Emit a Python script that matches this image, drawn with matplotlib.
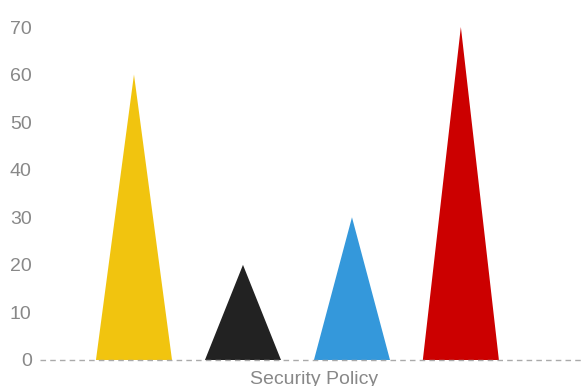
import matplotlib
matplotlib.use("Agg")
import matplotlib.pyplot as plt

category = "Security Policy"
values = [60, 20, 30, 70]
colors = ["#F1C40F", "#222222", "#3498DB", "#CC0000"]
offsets = [-0.3285, -0.1296, 0.0693, 0.268]
half_width = 0.0694

plt.rcParams['font.family'] = ['Liberation Sans', 'DejaVu Sans']

fig = plt.figure(figsize=(5.81, 3.86), dpi=100)
W, H = 581, 386
left, right = 40, 588
y0, y70 = 360, 27
ax = fig.add_axes([left / W, (H - y0) / H, (right - left) / W, (y0 - y70) / H])
ax.set_xlim(-0.5, 0.5)
ax.set_ylim(0, 70)

for v, c, off in zip(values, colors, offsets):
    xs = [off - half_width, off, off + half_width]
    ys = [0, v, 0]
    ax.fill(xs, ys, color=c, clip_on=False, zorder=2, linewidth=0)

ax.axhline(0, color="#aaaaaa", linestyle=(0, (4, 3)), linewidth=1, zorder=3, clip_on=False)

for s in ax.spines.values():
    s.set_visible(False)
ax.set_yticks(range(0, 71, 10))
ax.set_xticks([0])
ax.set_xticklabels([category])
ax.tick_params(axis='both', length=0, colors="#888888", labelsize=14)
ax.tick_params(axis='y', pad=6)
ax.tick_params(axis='x', pad=8)

fig.savefig("out.png", dpi=100)
